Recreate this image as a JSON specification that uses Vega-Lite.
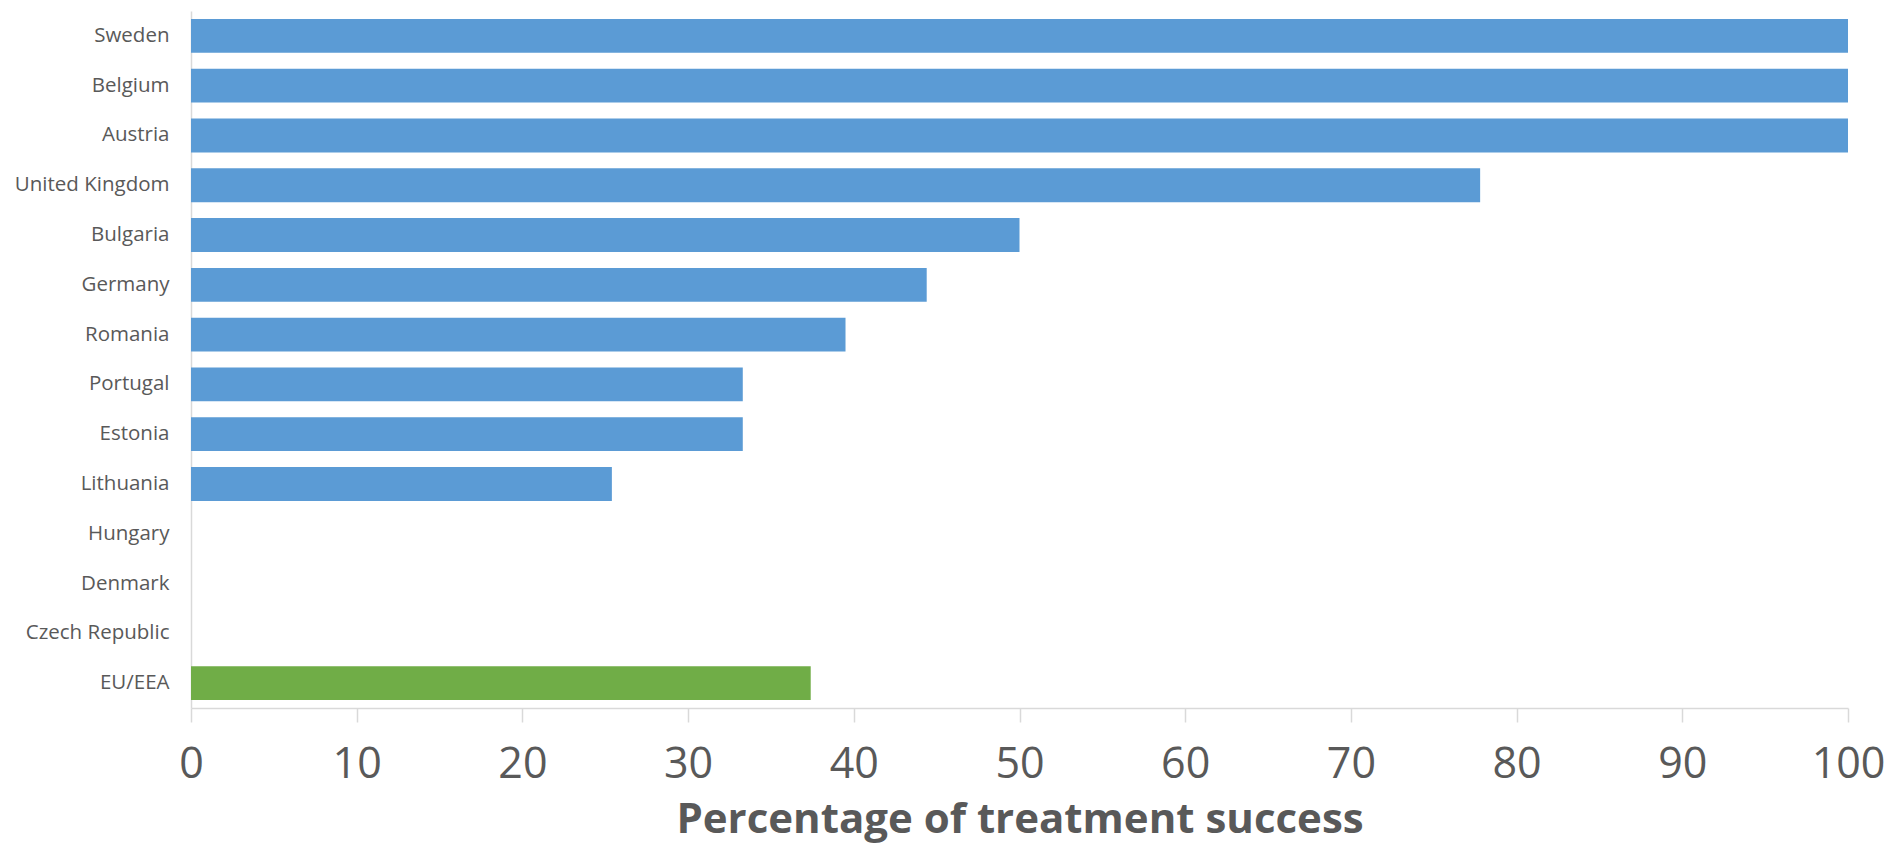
{
  "$schema": "https://vega.github.io/schema/vega-lite/v6.json",
  "autosize": {"type": "none"},
  "padding": {"left": 191, "top": 11, "right": 38, "bottom": 137},
  "width": 1657,
  "height": 697,
  "background": "white",
  "config": {"view": {"stroke": null}, "font": "Open Sans"},
  "data": {"values": [
    {"country": "Sweden", "value": 100, "group": "country"},
    {"country": "Belgium", "value": 100, "group": "country"},
    {"country": "Austria", "value": 100, "group": "country"},
    {"country": "United Kingdom", "value": 77.8, "group": "country"},
    {"country": "Bulgaria", "value": 50, "group": "country"},
    {"country": "Germany", "value": 44.4, "group": "country"},
    {"country": "Romania", "value": 39.5, "group": "country"},
    {"country": "Portugal", "value": 33.3, "group": "country"},
    {"country": "Estonia", "value": 33.3, "group": "country"},
    {"country": "Lithuania", "value": 25.4, "group": "country"},
    {"country": "Hungary", "value": 0, "group": "country"},
    {"country": "Denmark", "value": 0, "group": "country"},
    {"country": "Czech Republic", "value": 0, "group": "country"},
    {"country": "EU/EEA", "value": 37.4, "group": "eu"}
  ]},
  "mark": {"type": "bar"},
  "encoding": {
    "y": {
      "field": "country", "type": "nominal", "sort": null,
      "scale": {"paddingInner": 0.32, "paddingOuter": 0.16},
      "axis": {
        "title": null, "ticks": false, "domainColor": "#d9d9d9", "domainWidth": 1.5,
        "labelFont": "Open Sans", "labelFontSize": 20.5, "labelColor": "#595959",
        "labelPadding": 22
      }
    },
    "x": {
      "field": "value", "type": "quantitative",
      "scale": {"domain": [0, 100], "nice": false},
      "axis": {
        "values": [0, 10, 20, 30, 40, 50, 60, 70, 80, 90, 100],
        "grid": false, "tickColor": "#d9d9d9", "tickSize": 14, "tickWidth": 1.5,
        "domainColor": "#d9d9d9", "domainWidth": 1.5,
        "labelFont": "Open Sans", "labelFontSize": 43, "labelColor": "#595959",
        "labelPadding": 21, "labelFlush": false,
        "title": "Percentage of treatment success",
        "titleFont": "Open Sans", "titleFontSize": 42, "titleFontWeight": "bold",
        "titleColor": "#595959", "titlePadding": 13
      }
    },
    "color": {
      "field": "group", "type": "nominal",
      "scale": {"domain": ["country", "eu"], "range": ["#5b9bd5", "#70ad47"]},
      "legend": null
    }
  }
}
